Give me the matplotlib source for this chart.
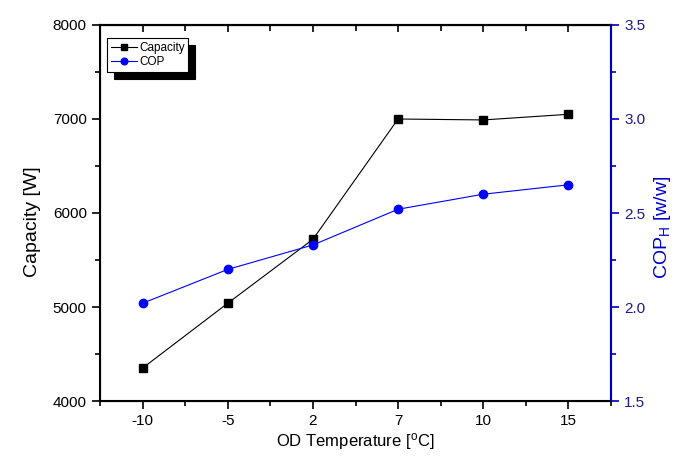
import matplotlib
matplotlib.use("Agg")
import matplotlib.pyplot as plt
from matplotlib.ticker import MultipleLocator, FormatStrFormatter

plt.rcParams['font.family'] = ['Liberation Sans', 'DejaVu Sans']

categories = ['-10', '-5', '2', '7', '10', '15']
capacity = [4350, 5040, 5720, 7000, 6990, 7050]
cop = [2.02, 2.20, 2.33, 2.52, 2.60, 2.65]

fig = plt.figure(figsize=(6.86, 4.73), dpi=100)
ax = fig.add_axes([100/686, 1-401/473, 511/686, 376/473])
x = list(range(len(categories)))

l1, = ax.plot(x, capacity, color='black', marker='s', markersize=6, linewidth=0.8, label='Capacity')
ax.set_xlim(-0.5, 5.5)
ax.set_ylim(4000, 8000)
ax.set_xticks(x)
ax.set_xticklabels(categories)
ax.xaxis.set_minor_locator(MultipleLocator(0.5))
ax.yaxis.set_major_locator(MultipleLocator(1000))
ax.yaxis.set_minor_locator(MultipleLocator(500))
ax.tick_params(axis='both', which='major', direction='out', length=6, width=1.2, labelsize=11)
ax.tick_params(axis='both', which='minor', direction='out', length=3.5, width=1.2)
for s in ax.spines.values():
    s.set_linewidth(1.5)
ax.set_xlabel('OD Temperature [$\\mathregular{^{o}}$C]', fontsize=12, labelpad=2)
ax.set_ylabel('Capacity [W]', fontsize=14)
ax.yaxis.set_label_coords(-0.116, 0.476)

# inward ticks on the top spine
top = ax.secondary_xaxis('top')
top.set_xticks(x)
top.xaxis.set_minor_locator(MultipleLocator(0.5))
top.tick_params(axis='x', which='major', direction='in', length=5, width=1.2, labeltop=False)
top.tick_params(axis='x', which='minor', direction='in', length=4, width=1.2)
top.spines['top'].set_linewidth(1.5)

ax2 = ax.twinx()
l2, = ax2.plot(x, cop, color='#0000ff', marker='o', markersize=6, linewidth=0.8, label='COP')
ax2.set_ylim(1.5, 3.5)
ax2.yaxis.set_major_locator(MultipleLocator(0.5))
ax2.yaxis.set_minor_locator(MultipleLocator(0.25))
ax2.yaxis.set_major_formatter(FormatStrFormatter('%.1f'))
ax2.tick_params(axis='y', which='major', direction='out', length=6, width=1.2, labelsize=11,
                colors='#0000bb', labelcolor='#1a1a8c')
ax2.tick_params(axis='y', which='minor', direction='out', length=3.5, width=1.2, colors='#0000bb')
ax2.spines['right'].set_color('#0000bb')
ax2.spines['right'].set_linewidth(1.5)
ax2.set_ylabel('COP$\\mathregular{_{H}}$ [w/w]', fontsize=14, color='#0000cc')
ax2.yaxis.set_label_coords(1.080, 0.463)
ax2.set_xlim(-0.5, 5.5)

leg = ax.legend(handles=[l1, l2], loc='upper left', bbox_to_anchor=(0.0137, 0.965),
                borderaxespad=0, fontsize=8.5, frameon=True, fancybox=False, edgecolor='black',
                shadow={'ox': 5, 'oy': -5, 'color': 'black', 'alpha': 1},
                handlelength=2.2, handletextpad=0.2, borderpad=0.3, labelspacing=0.2,
                markerscale=0.8)
leg.get_frame().set_linewidth(0.8)

fig.savefig('out.png', dpi=100)
